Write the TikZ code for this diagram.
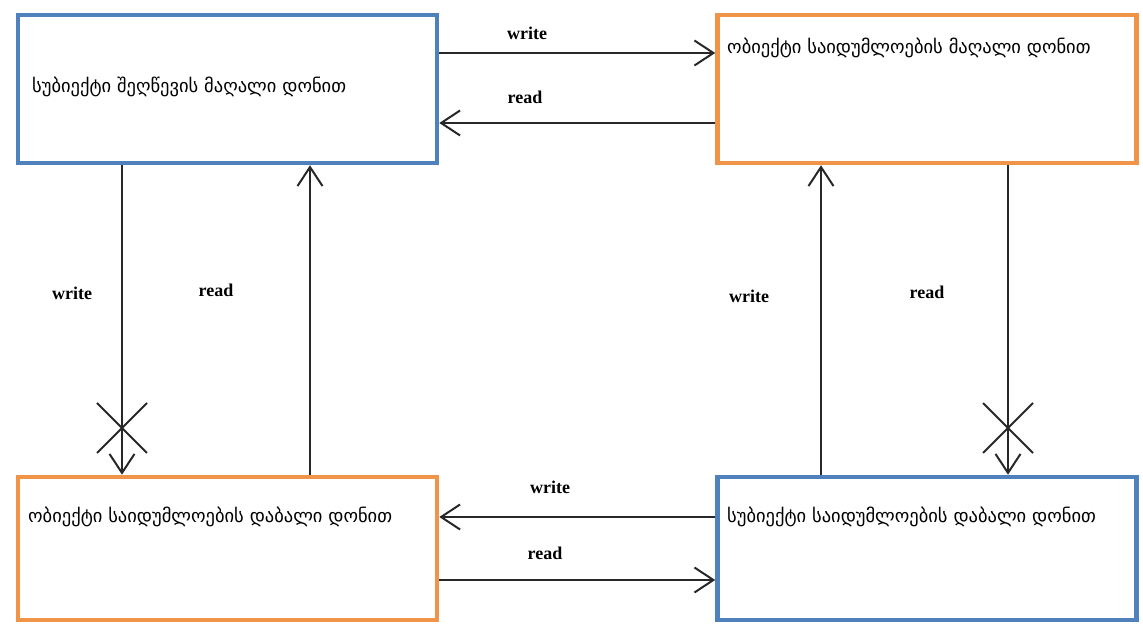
\documentclass[tikz,border=0pt]{standalone}
\usepackage{fontspec}
\setmainfont{Liberation Serif}
\newfontfamily\geofont[Script=Georgian]{DejaVu Sans}
\usetikzlibrary{arrows.meta,shapes.misc}
\definecolor{boxblue}{RGB}{79,129,189}
\definecolor{boxorange}{RGB}{240,148,72}
\definecolor{linegray}{RGB}{40,40,40}
\begin{document}
\begin{tikzpicture}[x=1pt,y=1pt,
  box/.style={draw, line width=4.5pt, minimum width=419pt, inner sep=0pt},
  hibox/.style={box, minimum height=148pt},
  lobox/.style={box, minimum height=143pt},
  geotext/.style={anchor=west, inner sep=0pt, font=\geofont\fontsize{18.5}{21}\selectfont},
  lbl/.style={inner sep=0pt, font=\bfseries\fontsize{18}{20}\selectfont},
  arr/.style={draw=linegray, line width=2pt, -{Straight Barb[length=19pt,width=25pt,line width=2pt]}},
  blocked/.style={cross out, draw=linegray, line width=2pt, minimum width=48pt, minimum height=48pt, inner sep=0pt}]
\useasboundingbox[fill=white] (0,0) rectangle (1143,628);

% subject and object boxes
\node[hibox, draw=boxblue]   (tl) at (227.5,539) {};
\node[hibox, draw=boxorange] (tr) at (927,539) {};
\node[lobox, draw=boxorange] (bl) at (227.5,79.5) {};
\node[lobox, draw=boxblue]   (br) at (927,79.5) {};

% box captions
\node[geotext] (tlt) at (32,541)  {სუბიექტი შეღწევის მაღალი დონით};
\node[geotext] (trt) at (727,580) {ობიექტი საიდუმლოების მაღალი დონით};
\node[geotext] (blt) at (28,111)  {ობიექტი საიდუმლოების დაბალი დონით};
\node[geotext] (brt) at (727,111) {სუბიექტი საიდუმლოების დაბალი დონით};

% horizontal flows
\draw[arr] ([yshift=36pt]tl.east) -- ([yshift=36pt]tr.west);
\draw[arr] ([yshift=-34pt]tr.west) -- ([yshift=-34pt]tl.east);
\draw[arr] ([yshift=31.5pt]br.west) -- ([yshift=31.5pt]bl.east);
\draw[arr] ([yshift=-31.5pt]bl.east) -- ([yshift=-31.5pt]br.west);

% vertical flows
\draw[arr] ([xshift=-105.5pt]tl.south) -- ([xshift=-105.5pt]bl.north);
\draw[arr] ([xshift=82.5pt]bl.north) -- ([xshift=82.5pt]tl.south);
\draw[arr] ([xshift=-106pt]br.north) -- ([xshift=-106pt]tr.south);
\draw[arr] ([xshift=81pt]tr.south) -- ([xshift=81pt]br.north);

% forbidden flows
\node[blocked] (xl) at (122,200) {};
\node[blocked] (xr) at (1008,200) {};

% flow labels
\node[lbl] (w1) at (527,595) {write};
\node[lbl] (r1) at (525,531) {read};
\node[lbl] (w2) at (72,335)  {write};
\node[lbl] (r2) at (216,338) {read};
\node[lbl] (w3) at (749,332) {write};
\node[lbl] (r3) at (927,336) {read};
\node[lbl] (w4) at (550,141) {write};
\node[lbl] (r4) at (545,75)  {read};
\end{tikzpicture}
\end{document}
